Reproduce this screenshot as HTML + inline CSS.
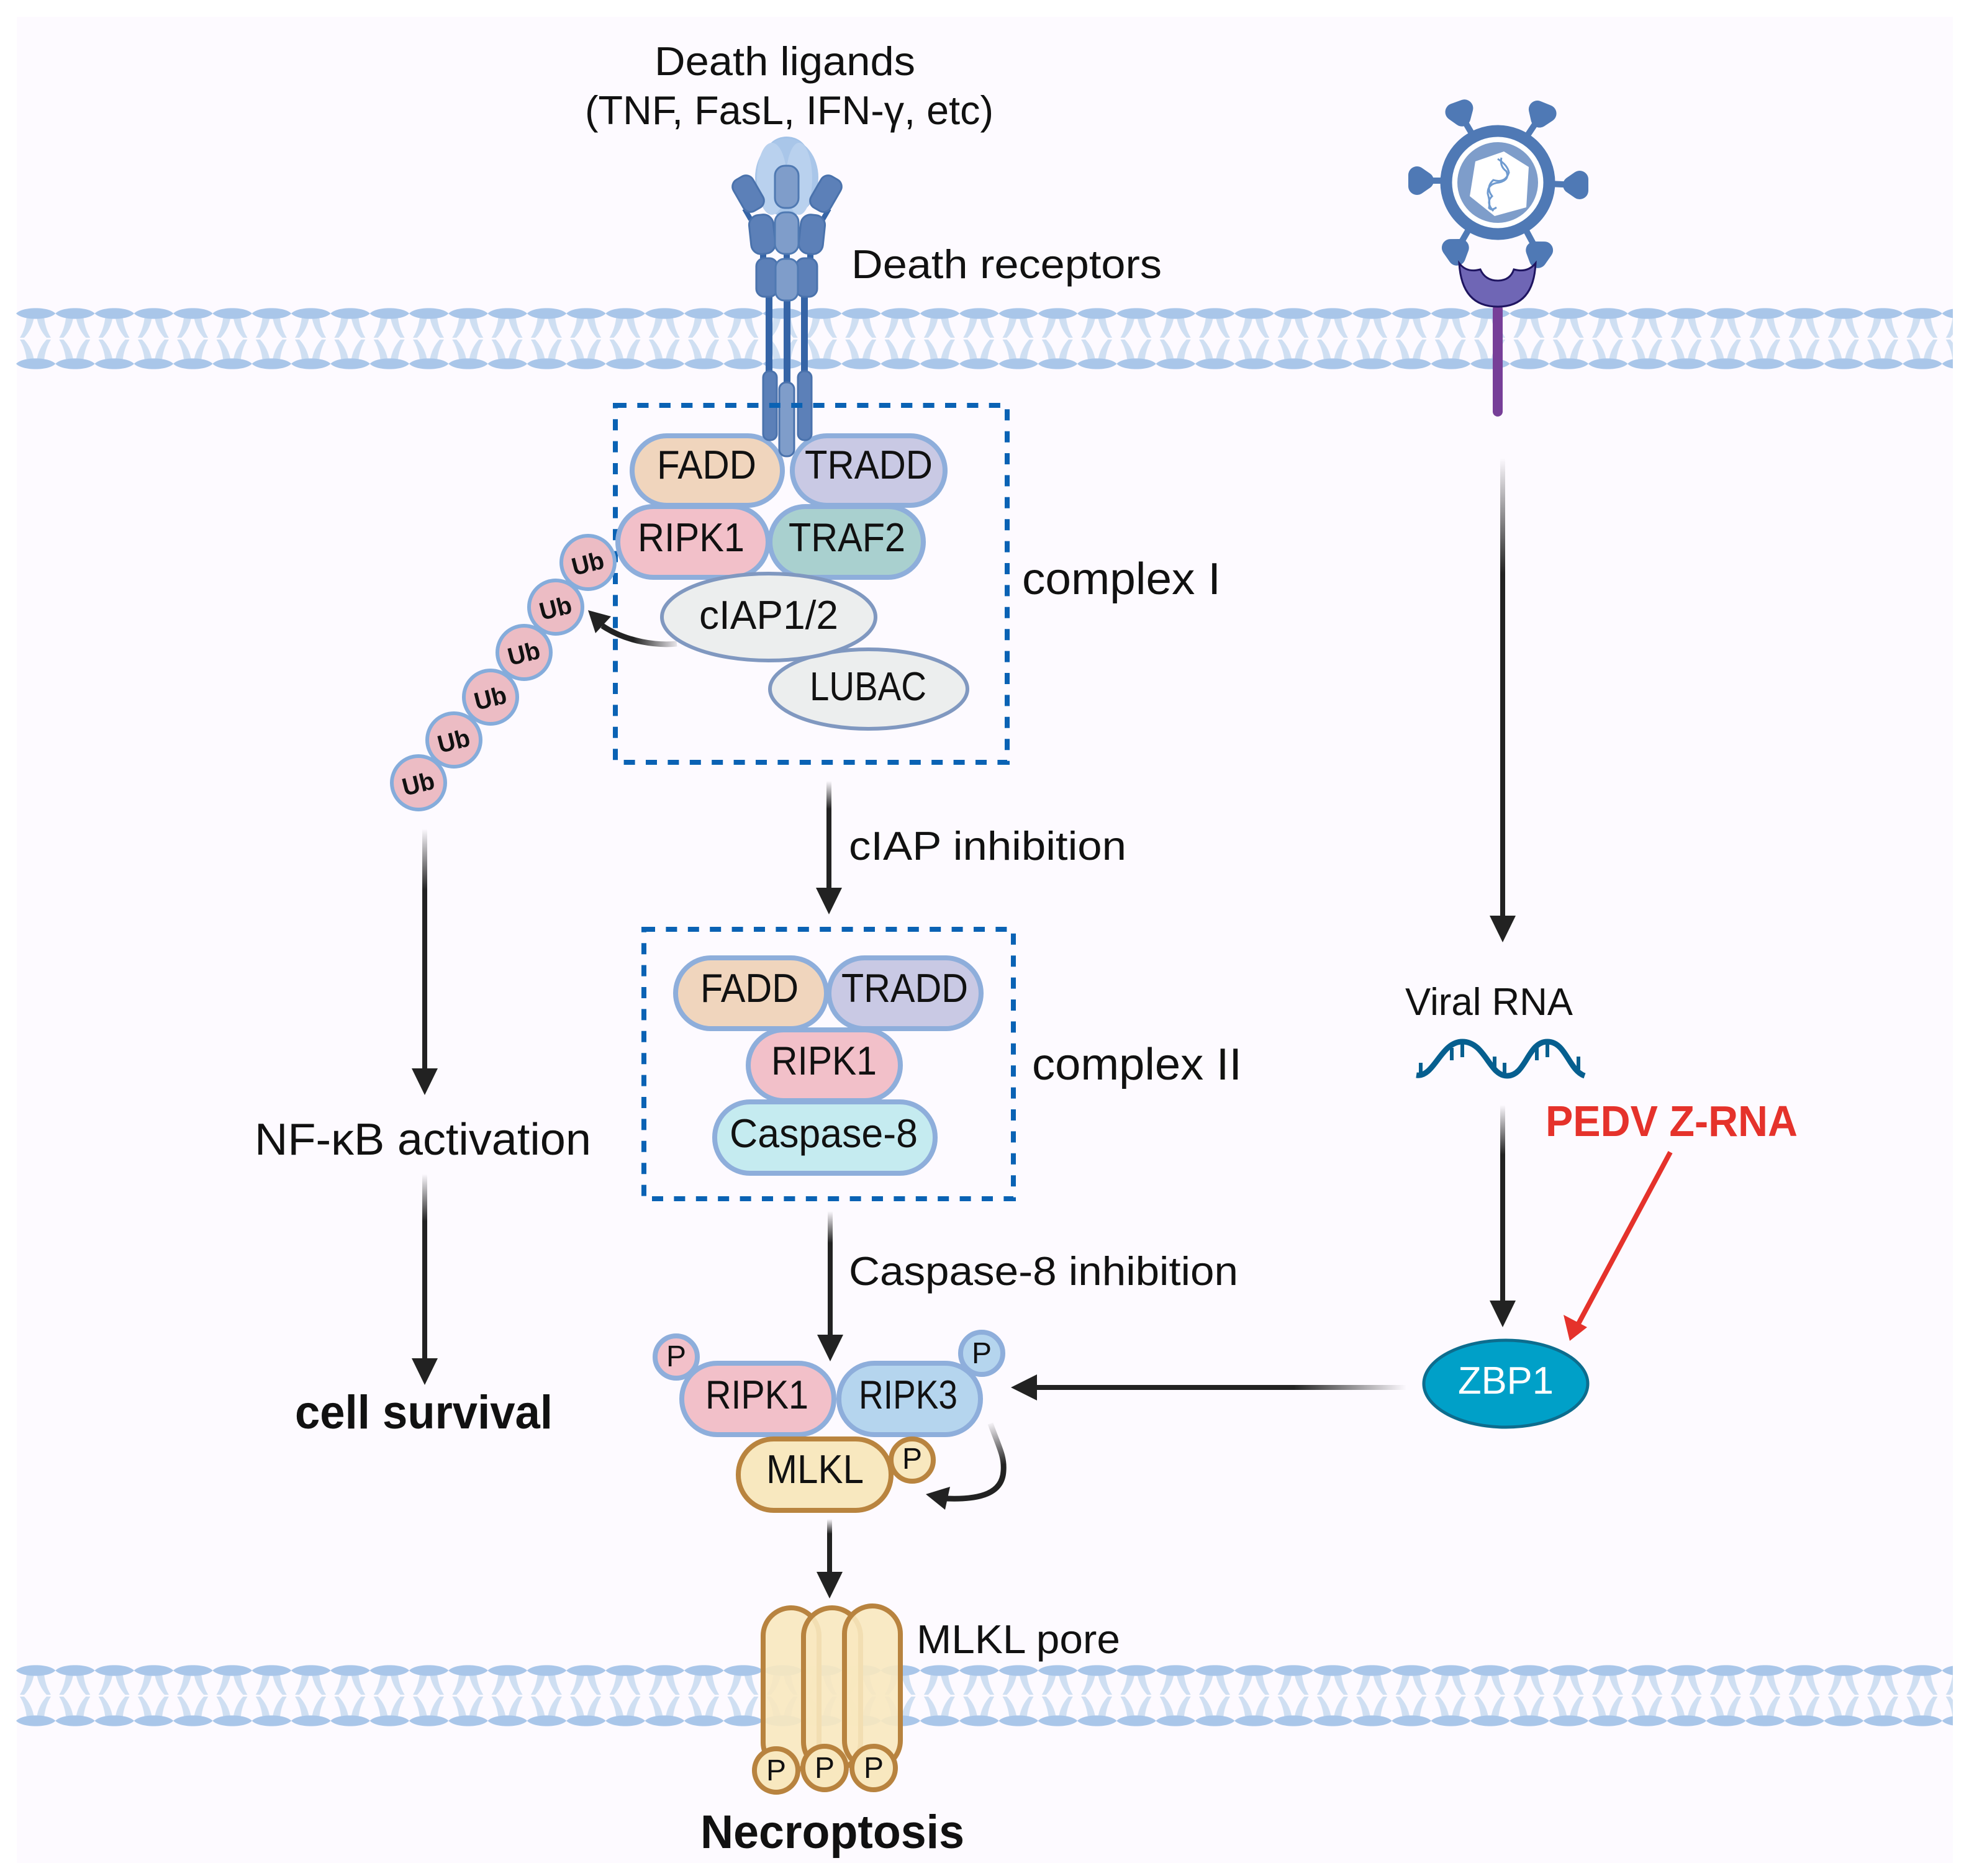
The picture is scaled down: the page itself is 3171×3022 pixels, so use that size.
<!DOCTYPE html>
<html><head><meta charset="utf-8"><style>
html,body{margin:0;padding:0;background:#fff}
svg{display:block}
text{font-family:"Liberation Sans",sans-serif;fill:#111;font-size:65px}
.b{font-weight:bold}
</style></head><body>
<svg xmlns="http://www.w3.org/2000/svg" width="3171" height="3022" viewBox="0 0 3171 3022">
<defs>
<linearGradient id="gv" x1="0" y1="0" x2="0" y2="1"><stop offset="0" stop-color="#222" stop-opacity="0"/><stop offset=".25" stop-color="#222"/></linearGradient>
<linearGradient id="gh" x1="1" y1="0" x2="0" y2="0"><stop offset="0" stop-color="#222" stop-opacity="0"/><stop offset=".3" stop-color="#222"/></linearGradient>
<linearGradient id="gc1" gradientUnits="userSpaceOnUse" x1="1090" y1="1037" x2="1020" y2="1037"><stop offset="0" stop-color="#222" stop-opacity=".1"/><stop offset="1" stop-color="#222"/></linearGradient>
<linearGradient id="gc2" gradientUnits="userSpaceOnUse" x1="1595" y1="2290" x2="1612" y2="2360"><stop offset="0" stop-color="#222" stop-opacity="0"/><stop offset="1" stop-color="#222"/></linearGradient>
<pattern id="mem" patternUnits="userSpaceOnUse" x="26" y="490" width="63.3" height="112">
<g fill="#cfdff2">
<path d="M17 20Q15 40 6 54L13 54Q26 40 29 20Z"/>
<path d="M45 20Q47 40 56 54L49 54Q36 40 33 20Z"/>
<path d="M17 91Q15 71 6 57L13 57Q26 71 29 91Z"/>
<path d="M45 91Q47 71 56 57L49 57Q36 71 33 91Z"/>
</g>
<path d="M0 15C10 3.5 53 3.5 63.3 15C53 26.5 10 26.5 0 15Z" fill="#a9c6e9"/>
<path d="M0 96C10 84.5 53 84.5 63.3 96C53 107.5 10 107.5 0 96Z" fill="#a9c6e9"/>
</pattern>
<g id="sp"><polygon points="-9,-6 9,-6 0,7" fill="#4f79b5" stroke="#4f79b5" stroke-width="28" stroke-linejoin="round"/></g>
</defs>

<rect x="27" y="27" width="3118" height="2974" fill="#fdfaff"/>

<!-- membranes -->
<rect x="26" y="490" width="3119" height="112" fill="url(#mem)"/>
<g transform="translate(0,2186)"><rect x="26" y="490" width="3119" height="112" fill="url(#mem)"/></g>

<!-- ligand + receptor upper -->
<ellipse cx="1267" cy="250" rx="34" ry="30" fill="#a3c3e8"/>
<ellipse cx="1267" cy="286" rx="51" ry="63" fill="#a9c6e9"/>
<ellipse cx="1243" cy="288" rx="24" ry="58" fill="#b9d1ee"/>
<ellipse cx="1287" cy="288" rx="21" ry="58" fill="#b9d1ee"/>
<g fill="#3564a6">
<rect x="1233" y="470" width="11" height="135"/>
<rect x="1262" y="480" width="11" height="145"/>
<rect x="1290" y="470" width="11" height="135"/>
<rect x="1200" y="335" width="8" height="20" transform="rotate(-30 1204 345)"/>
<rect x="1326" y="335" width="8" height="20" transform="rotate(30 1330 345)"/>
<rect x="1224" y="405" width="10" height="16"/><rect x="1262" y="405" width="10" height="16"/><rect x="1300" y="405" width="10" height="16"/>
</g>
<g fill="#5c80b8" stroke="#4a72ac" stroke-width="3">
<rect x="1187" y="283" width="36" height="58" rx="13" transform="rotate(-30 1205 312)"/>
<rect x="1312" y="283" width="36" height="58" rx="13" transform="rotate(30 1330 312)"/>
<rect x="1208" y="346" width="39" height="63" rx="16" transform="rotate(-6 1227 377)"/>
<rect x="1288" y="346" width="39" height="63" rx="16" transform="rotate(6 1307 377)"/>
<rect x="1218" y="416" width="34" height="62" rx="13"/>
<rect x="1282" y="416" width="34" height="62" rx="13"/>
</g>
<g fill="#7f9dca" stroke="#4f79b2" stroke-width="3">
<rect x="1248" y="267" width="38" height="68" rx="16"/>
<rect x="1248" y="342" width="38" height="67" rx="16"/>
<rect x="1249" y="417" width="36" height="67" rx="14"/>
</g>

<!-- virus -->
<g stroke="#4f79b5" stroke-width="10">
<line x1="2352" y1="184" x2="2372" y2="218"/><line x1="2482" y1="185" x2="2460" y2="218"/>
<line x1="2288" y1="291" x2="2330" y2="291"/><line x1="2538" y1="298" x2="2495" y2="296"/>
<line x1="2346" y1="403" x2="2368" y2="365"/><line x1="2477" y1="407" x2="2456" y2="368"/>
</g>
<use href="#sp" transform="translate(2352,183) rotate(-20)"/>
<use href="#sp" transform="translate(2482,185) rotate(22)"/>
<use href="#sp" transform="translate(2288,291) rotate(-90)"/>
<use href="#sp" transform="translate(2538,298) rotate(90)"/>
<use href="#sp" transform="translate(2346,403) rotate(-125)"/>
<use href="#sp" transform="translate(2477,407) rotate(125)"/>
<circle cx="2412" cy="294" r="83" fill="#fff" stroke="#4f79b5" stroke-width="19"/>
<circle cx="2412" cy="294" r="65" fill="#7e9dca"/>
<polygon points="2422,244 2462,269 2458,334 2407,348 2367,316 2376,260" fill="#fff"/>
<g fill="none" stroke="#6f9bd0" stroke-width="3">
<path d="M2418 254Q2415 268 2426 276Q2432 290 2414 294Q2395 296 2396 312Q2400 325 2398 335Q2402 340 2410 334"/>
<path d="M2412 256Q2428 266 2430 278Q2424 296 2405 290Q2392 302 2403 316Q2392 326 2405 340"/>
</g>

<!-- virus receptor -->
<rect x="2404" y="490" width="16" height="181" rx="8" fill="#773f98"/>
<path d="M2350 424Q2362 440 2384 434Q2392 452 2412 452Q2432 452 2438 434Q2460 440 2473 424Q2470 494 2412 494Q2354 494 2350 424Z" fill="#6f66b5" stroke="#1f1560" stroke-width="3"/>

<!-- dashed boxes -->
<g fill="none" stroke="#0a62b4" stroke-width="8" stroke-dasharray="18 17.4">
<rect x="991" y="653" width="631" height="575"/>
<rect x="1037" y="1497" width="595" height="434"/>
</g>

<!-- Ubiquitin chain -->
<g fill="#ecbcc4" stroke="#85acdb" stroke-width="6">
<circle cx="674" cy="1261" r="43"/><circle cx="731" cy="1192" r="43"/><circle cx="790" cy="1123" r="43"/>
<circle cx="844" cy="1051" r="43"/><circle cx="895" cy="978" r="43"/><circle cx="947" cy="906" r="43"/>
</g>
<g class="b" text-anchor="middle">
<text class="b" style="font-size:40px" textLength="52" lengthAdjust="spacingAndGlyphs" transform="translate(677,1276) rotate(-14)" x="0" y="0">Ub</text>
<text class="b" style="font-size:40px" textLength="52" lengthAdjust="spacingAndGlyphs" transform="translate(734,1207) rotate(-14)" x="0" y="0">Ub</text>
<text class="b" style="font-size:40px" textLength="52" lengthAdjust="spacingAndGlyphs" transform="translate(793,1138) rotate(-14)" x="0" y="0">Ub</text>
<text class="b" style="font-size:40px" textLength="52" lengthAdjust="spacingAndGlyphs" transform="translate(847,1066) rotate(-14)" x="0" y="0">Ub</text>
<text class="b" style="font-size:40px" textLength="52" lengthAdjust="spacingAndGlyphs" transform="translate(898,993) rotate(-14)" x="0" y="0">Ub</text>
<text class="b" style="font-size:40px" textLength="52" lengthAdjust="spacingAndGlyphs" transform="translate(950,921) rotate(-14)" x="0" y="0">Ub</text>
</g>

<!-- Complex I pills -->
<g stroke="#8eaedb" stroke-width="8">
<rect x="1018" y="702" width="242" height="112" rx="56" fill="#f0d5bd"/>
<rect x="1276" y="702" width="246" height="112" rx="56" fill="#c9c9e4"/>
<rect x="1240" y="816" width="247" height="114" rx="57" fill="#a9d0cf"/>
<rect x="995" y="816" width="242" height="114" rx="57" fill="#f2c0c9"/>
</g>
<g stroke="#8098c0" stroke-width="6" fill="#eceeee">
<ellipse cx="1399" cy="1110" rx="159" ry="64"/>
<ellipse cx="1238" cy="994" rx="172" ry="70"/>
</g>

<!-- receptor lower rods -->
<g stroke="#4a72ac" stroke-width="3">
<rect x="1229" y="598" width="22" height="111" rx="10" fill="#5c80b8"/>
<rect x="1285" y="598" width="22" height="111" rx="10" fill="#5c80b8"/>
<rect x="1255" y="616" width="24" height="119" rx="11" fill="#7f9dca"/>
</g>
<line x1="991" y1="653" x2="1622" y2="653" fill="none" stroke="#0a62b4" stroke-width="8" stroke-dasharray="18 17.4"/>

<!-- Complex II pills -->
<g stroke="#8eaedb" stroke-width="8">
<rect x="1088" y="1543" width="243" height="114" rx="57" fill="#f0d5bd"/>
<rect x="1335" y="1543" width="245" height="114" rx="57" fill="#c9c9e4"/>
<rect x="1205" y="1659" width="245" height="114" rx="57" fill="#f2c0c9"/>
<rect x="1151" y="1775" width="355" height="115" rx="57" fill="#c5ebf0"/>
</g>

<!-- RIPK complex -->
<g stroke="#8eaedb" stroke-width="8">
<circle cx="1089" cy="2186" r="34" fill="#f2c0c9"/>
<circle cx="1581" cy="2180" r="34" fill="#b5d5ee"/>
<rect x="1098" y="2196" width="245" height="115" rx="57" fill="#f2c0c9"/>
<rect x="1351" y="2196" width="228" height="115" rx="57" fill="#b5d5ee"/>
</g>
<g stroke="#b9843f" stroke-width="8" fill="#f8e8bf">
<circle cx="1469" cy="2352" r="34"/>
<rect x="1189" y="2318" width="246" height="115" rx="57"/>
</g>

<!-- ZBP1 -->
<ellipse cx="2425" cy="2229" rx="132" ry="70" fill="#00a0c8" stroke="#0d6d8e" stroke-width="5"/>

<!-- MLKL pore -->
<g stroke="#b8833f" stroke-width="8" fill="#f8e8bf" fill-opacity=".9">
<rect x="1229" y="2590" width="90" height="262" rx="45"/>
<rect x="1294" y="2590" width="92" height="262" rx="46"/>
<rect x="1360" y="2587" width="90" height="262" rx="45"/>
</g>
<g stroke="#b8833f" stroke-width="8" fill="#f8e8bf">
<circle cx="1250" cy="2852" r="35"/><circle cx="1328" cy="2848" r="35"/><circle cx="1407" cy="2848" r="35"/>
</g>

<!-- RNA -->
<g fill="none" stroke="#065f8f">
<path d="M2281 1732C2310 1736 2320 1678 2355 1678C2392 1678 2398 1733 2427 1733C2458 1733 2460 1678 2492 1678C2522 1678 2526 1724 2552 1733" stroke-width="9"/>
<path d="M2288 1712V1730M2338 1688V1708M2355 1680V1703M2407 1702V1723M2423 1712V1730M2475 1688V1708M2492 1680V1703M2542 1702V1723" stroke-width="6"/>
</g>

<!-- arrows -->
<g fill="url(#gv)">
<rect x="2416" y="738" width="8" height="745"/>
<rect x="2416" y="1780" width="8" height="320"/>
<rect x="1331" y="1258" width="8" height="180"/>
<rect x="1333" y="1951" width="8" height="205"/>
<rect x="1332" y="2447" width="8" height="95"/>
<rect x="680" y="1335" width="8" height="395"/>
<rect x="680" y="1891" width="8" height="305"/>
</g>
<rect x="1660" y="2231" width="605" height="8" fill="url(#gh)"/>
<g fill="#222">
<polygon points="2399,1475 2441,1475 2420,1518"/>
<polygon points="2399,2095 2441,2095 2420,2138"/>
<polygon points="1314,1430 1356,1430 1335,1473"/>
<polygon points="1316,2150 1358,2150 1337,2193"/>
<polygon points="1315,2532 1357,2532 1336,2575"/>
<polygon points="663,1721 705,1721 684,1764"/>
<polygon points="663,2188 705,2188 684,2231"/>
<polygon points="1670,2214 1670,2256 1628,2235"/>
<polygon points="947,983 984,993 959,1020"/>
<polygon points="1491,2407 1530,2395 1522,2432"/>
</g>
<path d="M1090 1037C1060 1040 1010 1035 970 1008" fill="none" stroke="url(#gc1)" stroke-width="9"/>
<path d="M1595 2293C1608 2330 1618 2345 1616 2370C1614 2405 1580 2416 1525 2414" fill="none" stroke="url(#gc2)" stroke-width="9"/>
<line x1="2690" y1="1856" x2="2540" y2="2136" stroke="#e5322b" stroke-width="8"/>
<polygon points="2528,2160 2518,2118 2556,2138" fill="#e5322b"/>

<!-- Text -->
<text x="1054" y="121" textLength="420" lengthAdjust="spacingAndGlyphs">Death ligands</text>
<text x="942" y="200" textLength="658" lengthAdjust="spacingAndGlyphs">(TNF, FasL, IFN-γ, etc)</text>
<text x="1371" y="448" textLength="500" lengthAdjust="spacingAndGlyphs">Death receptors</text>
<text x="1058" y="771" textLength="160" lengthAdjust="spacingAndGlyphs">FADD</text>
<text x="1296" y="771" textLength="206" lengthAdjust="spacingAndGlyphs">TRADD</text>
<text x="1027" y="888" textLength="172" lengthAdjust="spacingAndGlyphs">RIPK1</text>
<text x="1270" y="888" textLength="188" lengthAdjust="spacingAndGlyphs">TRAF2</text>
<text x="1126" y="1013" textLength="224" lengthAdjust="spacingAndGlyphs">cIAP1/2</text>
<text x="1304" y="1128" textLength="188" lengthAdjust="spacingAndGlyphs">LUBAC</text>
<text x="1646" y="957" textLength="320" lengthAdjust="spacingAndGlyphs" style="font-size:72px">complex I</text>
<text x="1367" y="1385" textLength="447" lengthAdjust="spacingAndGlyphs">cIAP inhibition</text>
<text x="1128" y="1614" textLength="158" lengthAdjust="spacingAndGlyphs">FADD</text>
<text x="1355" y="1614" textLength="204" lengthAdjust="spacingAndGlyphs">TRADD</text>
<text x="1242" y="1731" textLength="170" lengthAdjust="spacingAndGlyphs">RIPK1</text>
<text x="1175" y="1848" textLength="303" lengthAdjust="spacingAndGlyphs">Caspase-8</text>
<text x="1662" y="1739" textLength="338" lengthAdjust="spacingAndGlyphs" style="font-size:72px">complex II</text>
<text x="410" y="1860" textLength="542" lengthAdjust="spacingAndGlyphs" style="font-size:72px">NF-κB activation</text>
<text x="475" y="2301" textLength="415" lengthAdjust="spacingAndGlyphs" class="b" style="font-size:76px">cell survival</text>
<text x="1367" y="2070" textLength="627" lengthAdjust="spacingAndGlyphs">Caspase-8 inhibition</text>
<text x="2263" y="1635" textLength="270" lengthAdjust="spacingAndGlyphs" style="font-size:62px">Viral RNA</text>
<text x="2489" y="1830" textLength="406" lengthAdjust="spacingAndGlyphs" class="b" style="font-size:70px;fill:#e5322b">PEDV Z-RNA</text>
<text x="2348" y="2245" textLength="154" lengthAdjust="spacingAndGlyphs" style="fill:#fff;font-size:62px">ZBP1</text>
<text x="1136" y="2269" textLength="166" lengthAdjust="spacingAndGlyphs">RIPK1</text>
<text x="1383" y="2269" textLength="159" lengthAdjust="spacingAndGlyphs">RIPK3</text>
<text x="1234" y="2389" textLength="157" lengthAdjust="spacingAndGlyphs">MLKL</text>
<text x="1476" y="2663" textLength="328" lengthAdjust="spacingAndGlyphs">MLKL pore</text>
<text x="1128" y="2977" textLength="425" lengthAdjust="spacingAndGlyphs" class="b" style="font-size:76px">Necroptosis</text>
<g text-anchor="middle" style="font-size:48px">
<text x="1089" y="2201" style="font-size:48px">P</text>
<text x="1581" y="2196" style="font-size:48px">P</text>
<text x="1469" y="2366" style="font-size:48px">P</text>
<text x="1250" y="2868" style="font-size:48px">P</text>
<text x="1328" y="2864" style="font-size:48px">P</text>
<text x="1407" y="2864" style="font-size:48px">P</text>
</g>
</svg>
</body></html>
